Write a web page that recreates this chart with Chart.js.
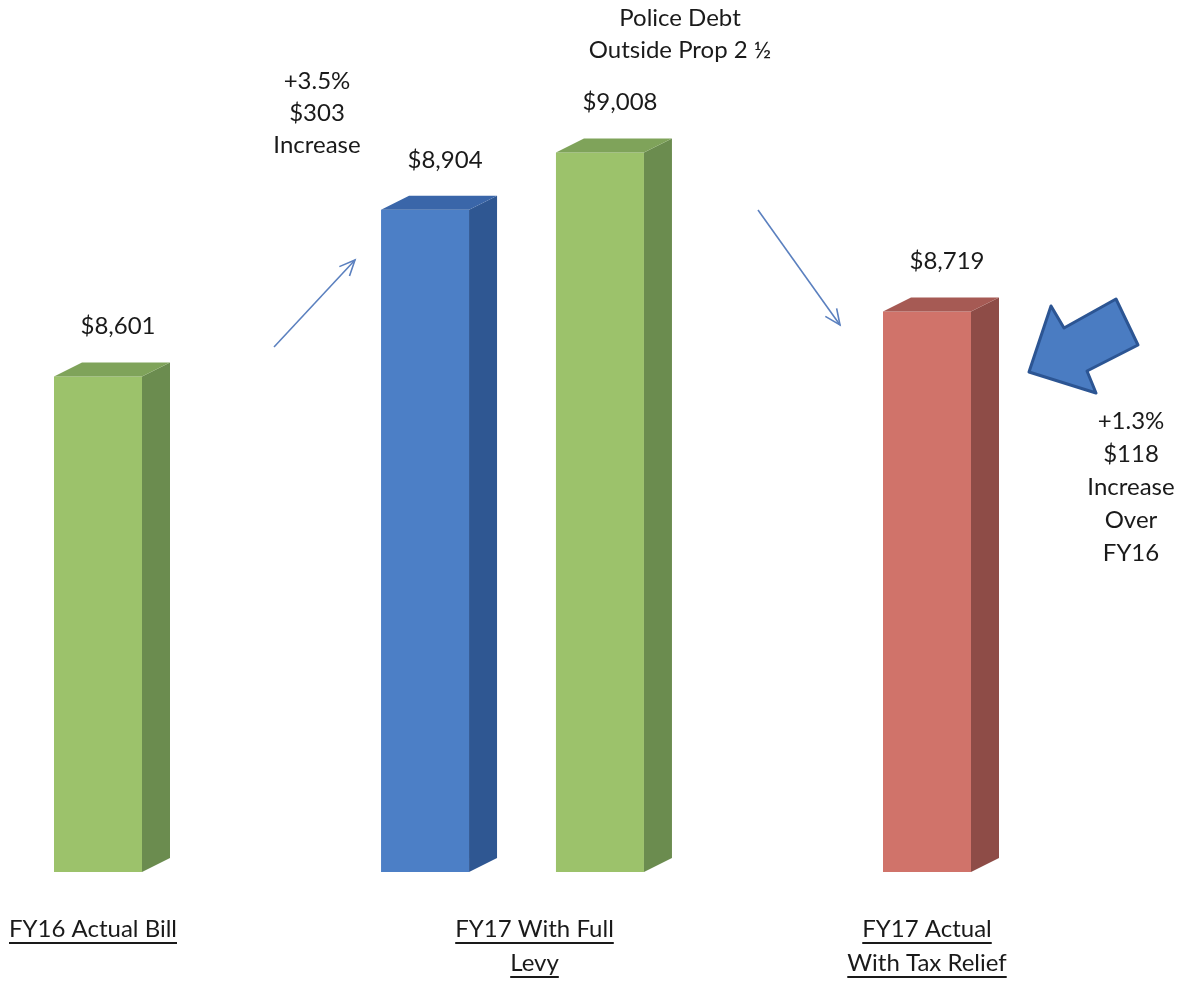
<!DOCTYPE html>
<html><head><meta charset="utf-8">
<script src="https://cdn.jsdelivr.net/npm/chart.js@4.4.1/dist/chart.umd.min.js"></script>
<style>html,body{margin:0;padding:0;background:#fff;}#wrap{width:1190px;height:984px;position:relative;}</style>
</head><body><div id="wrap"><canvas id="c" width="1190" height="984"></canvas></div>
<script>
// ---- data ----
const categories = [['FY16 Actual Bill'], ['FY17 With Full', 'Levy'], ['FY17 Actual', 'With Tax Relief']];
const billValues = [8601, 8904, 8719];
const policeDebtValues = [null, 9008, null];
const axisFloor = 7700, axisCeil = 9100;
const policeNote = ['Police Debt', 'Outside Prop 2 \u00BD'];
const levyNote = ['+3.5%', '$303', 'Increase'];
const reliefNote = ['+1.3%', '$118', 'Increase', 'Over', 'FY16'];

// ---- styles ----
const FONT = 'Lato, "Open Sans", sans-serif';
const TXT = '#1a1a1a';
const billFront = ['#9cc26b', '#4c7fc6', '#d0736a'];
const billSide  = ['#6b8c4f', '#2f5792', '#8e4c47'];
const billTop   = ['#7fa35a', '#3a66a9', '#a65a54'];
const debtFront = '#9cc26b', debtSide = '#6b8c4f', debtTop = '#7fa35a';
const DX = 28, DY = 14;

const cube = {
  id: 'cube',
  afterDatasetsDraw(chart) {
    const ctx = chart.ctx;
    chart.data.datasets.forEach((ds, di) => {
      const meta = chart.getDatasetMeta(di);
      meta.data.forEach((bar, i) => {
        const v = ds.data[i];
        if (v == null) return;
        const p = bar.getProps(['x', 'y', 'base', 'width'], true);
        const x0 = p.x - p.width / 2, x1 = p.x + p.width / 2;
        const side = di === 0 ? billSide[i] : debtSide;
        const top = di === 0 ? billTop[i] : debtTop;
        ctx.save();
        ctx.fillStyle = side;
        ctx.beginPath();
        ctx.moveTo(x1, p.y); ctx.lineTo(x1 + DX, p.y - DY);
        ctx.lineTo(x1 + DX, p.base - DY); ctx.lineTo(x1, p.base); ctx.closePath(); ctx.fill();
        ctx.fillStyle = top;
        ctx.beginPath();
        ctx.moveTo(x0, p.y); ctx.lineTo(x0 + DX, p.y - DY);
        ctx.lineTo(x1 + DX, p.y - DY); ctx.lineTo(x1, p.y); ctx.closePath(); ctx.fill();
        // value label
        ctx.fillStyle = TXT;
        ctx.font = '24px ' + FONT;
        ctx.textAlign = 'center'; ctx.textBaseline = 'middle';
        ctx.fillText('$' + v.toLocaleString('en-US'), p.x + DX / 2 + 6, p.y - 50);
        ctx.restore();
      });
    });
  },
  afterDraw(chart) {
    const ctx = chart.ctx;
    const xs = chart.scales.x;
    const bottom = chart.chartArea.bottom;
    ctx.save();
    ctx.fillStyle = TXT; ctx.strokeStyle = TXT;
    ctx.textAlign = 'center'; ctx.textBaseline = 'middle';
    ctx.font = '24px ' + FONT;
    // category labels, underlined
    categories.forEach((lines, i) => {
      const cx = xs.getPixelForValue(i) + (i === 1 ? 22 : (i === 0 ? -5 : 0));
      lines.forEach((t, j) => {
        const y = bottom + 57 + j * 34;
        ctx.fillText(t, cx, y);
        const w = ctx.measureText(t).width;
        ctx.lineWidth = 1.8;
        ctx.beginPath(); ctx.moveTo(cx - w / 2, y + 14); ctx.lineTo(cx + w / 2, y + 14); ctx.stroke();
      });
    });
    const block = (lines, cx, y0, step) => lines.forEach((t, j) => ctx.fillText(t, cx, y0 + j * step));
    block(policeNote, 680, 18, 32);
    block(levyNote, 317, 81, 32);
    block(reliefNote, 1131, 421, 33);
    // thin arrows
    const arrow = (xa, ya, xb, yb) => {
      ctx.strokeStyle = '#5b80bf'; ctx.lineWidth = 1.6;
      ctx.beginPath(); ctx.moveTo(xa, ya); ctx.lineTo(xb, yb); ctx.stroke();
      const a = Math.atan2(yb - ya, xb - xa), L = 17, s = 0.42;
      ctx.beginPath();
      ctx.moveTo(xb - L * Math.cos(a - s), yb - L * Math.sin(a - s));
      ctx.lineTo(xb, yb);
      ctx.lineTo(xb - L * Math.cos(a + s), yb - L * Math.sin(a + s));
      ctx.stroke();
    };
    arrow(274, 347, 355, 260);
    arrow(758, 210, 840, 325);
    // block arrow
    ctx.fillStyle = '#4a7cc2'; ctx.strokeStyle = '#2c5593'; ctx.lineWidth = 3; ctx.lineJoin = 'round';
    ctx.beginPath();
    [[1029, 372], [1051, 306], [1064, 328], [1116, 299], [1138, 345], [1087, 371], [1096, 393]]
      .forEach(([px, py], k) => k ? ctx.lineTo(px, py) : ctx.moveTo(px, py));
    ctx.closePath(); ctx.fill(); ctx.stroke();
    ctx.restore();
  }
};

const barOpts = { borderWidth: 0, clip: false, base: axisFloor, skipNull: true,
  categoryPercentage: 0.844, barPercentage: 1, maxBarThickness: 88 };

new Chart(document.getElementById('c'), {
  type: 'bar',
  data: {
    labels: categories,
    datasets: [
      Object.assign({ label: 'Tax bill', data: billValues, backgroundColor: billFront }, barOpts),
      Object.assign({ label: 'Police debt outside Prop 2\u00BD', data: policeDebtValues, backgroundColor: debtFront }, barOpts)
    ]
  },
  options: {
    responsive: false, animation: false, events: [],
    layout: { padding: { left: 98, right: 263, top: 102, bottom: 112 } },
    plugins: { legend: { display: false }, tooltip: { enabled: false } },
    scales: {
      x: { type: 'category', offset: false, display: false, grid: { offset: false } },
      y: { min: axisFloor, max: axisCeil, display: false }
    }
  },
  plugins: [cube]
});
</script></body></html>
